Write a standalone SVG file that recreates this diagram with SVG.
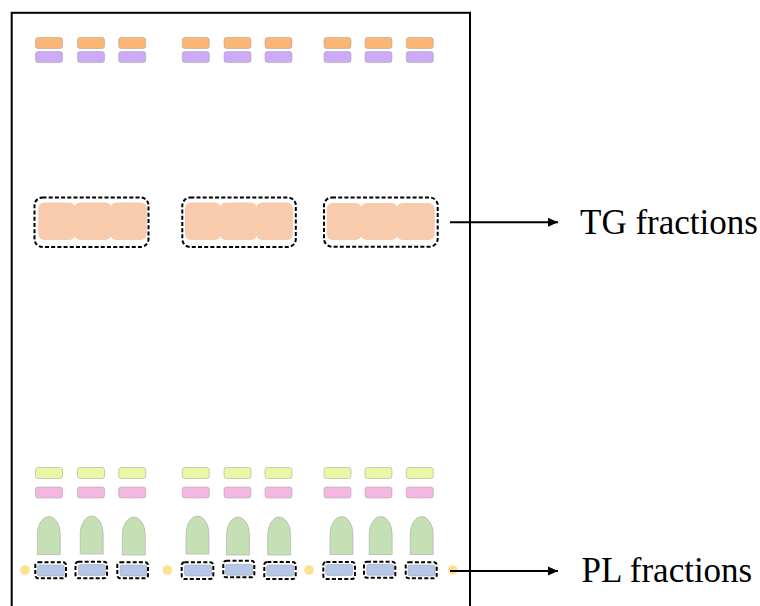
<svg xmlns="http://www.w3.org/2000/svg" width="760" height="606" viewBox="0 0 760 606">
  <defs>
    <style>
      .plate { fill: #ffffff; stroke: #000000; stroke-width: 2; }
      .spot { stroke: #a6a6a6; stroke-opacity: 0.7; stroke-width: 0.8; }
      .orange { fill: #fbb574; }
      .purple { fill: #ccaaf7; }
      .peach { fill: #f8cbad; }
      .lime { fill: #ebf7a5; }
      .pink { fill: #f3b7e1; }
      .green { fill: #c5e0b4; }
      .blue { fill: #b4c7e7; }
      .dot { fill: #ffe08f; }
      .dash { fill: none; stroke: #000000; stroke-width: 2; stroke-dasharray: 4 2.2; }
      .conn { fill: none; stroke: #000000; stroke-width: 2; }
      .label { font-family: "Liberation Serif", "Times New Roman", serif; font-size: 35px; fill: #000000; }
    </style>
    <marker id="arrow" markerUnits="userSpaceOnUse" markerWidth="12" markerHeight="12" refX="10" refY="6" orient="auto">
      <path d="M0,1.5 L10,6 L0,10.5 Z" fill="#000000"/>
    </marker>
    <!-- reusable spot shapes -->
    <rect id="bar" width="27" height="11" rx="2.5"/>
    <path id="arch" d="M0,38 V18 A11.5 18 0 0 1 23,18 V38 Z"/>
    <rect id="pl" width="27" height="11" rx="2"/>
  </defs>

  <!-- TLC plate -->
  <rect id="plate" class="plate" x="11.7" y="12.8" width="458.3" height="610"/>

  <!-- origin row: orange / purple standards -->
  <g id="top-spots" class="spot">
    <use href="#bar" class="orange" x="35.5" y="37.5"/>
    <use href="#bar" class="orange" x="77.5" y="37.5"/>
    <use href="#bar" class="orange" x="118.7" y="37.5"/>
    <use href="#bar" class="orange" x="182.3" y="37.5"/>
    <use href="#bar" class="orange" x="224" y="37.5"/>
    <use href="#bar" class="orange" x="265" y="37.5"/>
    <use href="#bar" class="orange" x="324" y="37.5"/>
    <use href="#bar" class="orange" x="365" y="37.5"/>
    <use href="#bar" class="orange" x="406.3" y="37.5"/>
    <use href="#bar" class="purple" x="35.5" y="51.5"/>
    <use href="#bar" class="purple" x="77.5" y="51.5"/>
    <use href="#bar" class="purple" x="118.7" y="51.5"/>
    <use href="#bar" class="purple" x="182.3" y="51.5"/>
    <use href="#bar" class="purple" x="224" y="51.5"/>
    <use href="#bar" class="purple" x="265" y="51.5"/>
    <use href="#bar" class="purple" x="324" y="51.5"/>
    <use href="#bar" class="purple" x="365" y="51.5"/>
    <use href="#bar" class="purple" x="406.3" y="51.5"/>
  </g>

  <!-- TG bands -->
  <g id="tg-band-1">
    <rect class="peach" x="38.3" y="202.5" width="37" height="37.5" rx="6"/>
    <rect class="peach" x="74.3" y="202.5" width="37" height="37.5" rx="6"/>
    <rect class="peach" x="110.3" y="202.5" width="36.5" height="37.5" rx="6"/>
    <rect class="dash" x="34.5" y="197.5" width="114" height="49.5" rx="8"/>
  </g>
  <g id="tg-band-2">
    <rect class="peach" x="185" y="202.5" width="36" height="37.5" rx="6"/>
    <rect class="peach" x="220" y="202.5" width="37" height="37.5" rx="6"/>
    <rect class="peach" x="256" y="202.5" width="37" height="37.5" rx="6"/>
    <rect class="dash" x="182.3" y="197.5" width="113.5" height="49.5" rx="8"/>
  </g>
  <g id="tg-band-3">
    <rect class="peach" x="326.7" y="203" width="35" height="37" rx="6"/>
    <rect class="peach" x="360.7" y="203" width="37" height="37" rx="6"/>
    <rect class="peach" x="396.5" y="203" width="38.2" height="37" rx="6"/>
    <rect class="dash" x="324" y="197.5" width="113.7" height="49.2" rx="8"/>
  </g>

  <!-- lower rows: lime / pink -->
  <g id="low-spots" class="spot">
    <use href="#bar" class="lime" x="35.5" y="467.5"/>
    <use href="#bar" class="lime" x="77.5" y="467.5"/>
    <use href="#bar" class="lime" x="118.7" y="467.5"/>
    <use href="#bar" class="lime" x="182.3" y="467.5"/>
    <use href="#bar" class="lime" x="224" y="467.5"/>
    <use href="#bar" class="lime" x="265" y="467.5"/>
    <use href="#bar" class="lime" x="324" y="467.5"/>
    <use href="#bar" class="lime" x="365" y="467.5"/>
    <use href="#bar" class="lime" x="406.3" y="467.5"/>
    <use href="#bar" class="pink" x="35.5" y="487"/>
    <use href="#bar" class="pink" x="77.5" y="487"/>
    <use href="#bar" class="pink" x="118.7" y="487"/>
    <use href="#bar" class="pink" x="182.3" y="487"/>
    <use href="#bar" class="pink" x="224" y="487"/>
    <use href="#bar" class="pink" x="265" y="487"/>
    <use href="#bar" class="pink" x="324" y="487"/>
    <use href="#bar" class="pink" x="365" y="487"/>
    <use href="#bar" class="pink" x="406.3" y="487"/>
  </g>

  <!-- green arches -->
  <g id="arches" class="spot">
    <use href="#arch" class="green" x="37.3" y="516.5"/>
    <use href="#arch" class="green" x="80.2" y="516"/>
    <use href="#arch" class="green" x="122.3" y="517"/>
    <use href="#arch" class="green" x="186" y="516"/>
    <use href="#arch" class="green" x="226.5" y="517"/>
    <use href="#arch" class="green" x="267.7" y="517"/>
    <use href="#arch" class="green" x="330" y="516.5"/>
    <use href="#arch" class="green" x="369.2" y="516.5"/>
    <use href="#arch" class="green" x="410.2" y="516.5"/>
  </g>

  <!-- application spots -->
  <g id="dots">
    <circle class="dot" cx="25" cy="570" r="4.8"/>
    <circle class="dot" cx="167.3" cy="570" r="4.8"/>
    <circle class="dot" cx="309" cy="570" r="4.8"/>
    <circle class="dot" cx="452.7" cy="570" r="4.8"/>
  </g>

  <!-- PL bands -->
  <g id="pl-bands">
    <use href="#pl" class="blue spot" x="37.3" y="565"/>
    <rect class="dash" x="35.3" y="562.3" width="30.7" height="16" rx="3"/>
    <use href="#pl" class="blue spot" x="78.5" y="564.5"/>
    <rect class="dash" x="75.5" y="561.7" width="31.5" height="16.6" rx="3"/>
    <use href="#pl" class="blue spot" x="120" y="565"/>
    <rect class="dash" x="117.3" y="562.3" width="30.7" height="16" rx="3"/>
    <use href="#pl" class="blue spot" x="184.5" y="565"/>
    <rect class="dash" x="181.7" y="562.3" width="31.6" height="16.7" rx="3"/>
    <use href="#pl" class="blue spot" x="225.5" y="564.3"/>
    <rect class="dash" x="223.3" y="560.7" width="31" height="16.6" rx="3"/>
    <use href="#pl" class="blue spot" x="266.7" y="565"/>
    <rect class="dash" x="264.3" y="562" width="31.4" height="17" rx="3"/>
    <use href="#pl" class="blue spot" x="325.8" y="564.5"/>
    <rect class="dash" x="323.3" y="562" width="31.7" height="17" rx="3"/>
    <use href="#pl" class="blue spot" x="366.7" y="564.3"/>
    <rect class="dash" x="364" y="561.7" width="31.3" height="16" rx="3"/>
    <use href="#pl" class="blue spot" x="408" y="565"/>
    <rect class="dash" x="405.7" y="562.3" width="31" height="16" rx="3"/>
  </g>

  <!-- connectors to the fraction labels -->
  <g id="connectors">
    <line class="conn" x1="450" y1="222.3" x2="558" y2="222.3" marker-end="url(#arrow)"/>
    <line class="conn" x1="450" y1="571" x2="558" y2="571" marker-end="url(#arrow)"/>
  </g>

  <g id="label-tg">
    <text class="label" x="580" y="233.5">TG fractions</text>
  </g>
  <g id="label-pl">
    <text class="label" x="581.5" y="581.5">PL fractions</text>
  </g>
</svg>
